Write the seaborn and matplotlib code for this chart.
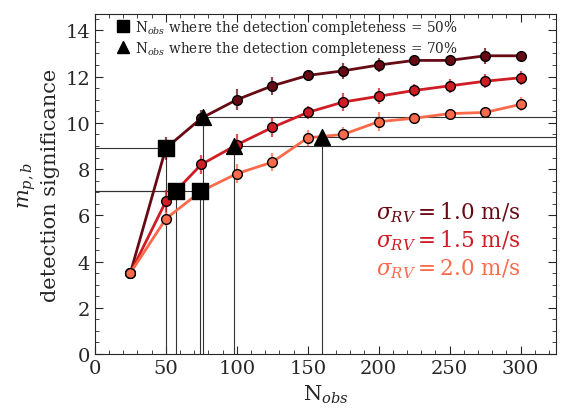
import numpy as np
import pandas as pd
import seaborn as sns
import matplotlib.pyplot as plt
from matplotlib.lines import Line2D

# Data
n_obs = [25, 50, 75, 100, 125, 150, 175, 200, 225, 250, 275, 300]
sig_10 = [3.5, 8.9, 10.2, 11.0, 11.6, 12.05, 12.25, 12.5, 12.7, 12.7, 12.9, 12.9]
sig_15 = [3.5, 6.6, 8.2, 9.05, 9.8, 10.45, 10.9, 11.15, 11.4, 11.6, 11.8, 11.95]
sig_20 = [3.5, 5.85, 7.05, 7.8, 8.3, 9.35, 9.5, 10.05, 10.2, 10.4, 10.45, 10.8]
err_10 = [0.2, 0.5, 0.35, 0.45, 0.4, 0.2, 0.35, 0.3, 0.2, 0.2, 0.35, 0.2]
err_15 = [0.2, 0.5, 0.4, 0.45, 0.4, 0.3, 0.4, 0.35, 0.3, 0.3, 0.3, 0.3]
err_20 = [0.2, 0.3, 0.3, 0.4, 0.4, 0.35, 0.3, 0.4, 0.2, 0.2, 0.2, 0.3]
labels = ['1.0', '1.5', '2.0']
colors = ['#680a14', '#d01c24', '#fb6a4a']

# completeness points (N_obs, significance)
c50_x = [50, 57, 74]
c50_y = [8.9, 7.05, 7.05]
c70_x = [76, 98, 160]
c70_y = [10.25, 9.0, 9.4]

df = pd.DataFrame({
    'N': n_obs * 3,
    'sig': sig_10 + sig_15 + sig_20,
    'err': err_10 + err_15 + err_20,
    'sigma': [l for l in labels for _ in n_obs],
})

sns.set_style('ticks')
plt.rcParams['font.family'] = 'DejaVu Serif'
plt.rcParams['mathtext.fontset'] = 'dejavuserif'

fig = plt.figure(figsize=(5.68, 4.10), dpi=100)
ax = fig.add_axes([0.167, 0.134, 0.812, 0.829])

xmax = 325
# guide lines
for x, y in zip(c50_x, c50_y):
    ax.plot([x, x], [0, y], color='#333333', lw=0.8, zorder=1)
    ax.plot([0, x], [y, y], color='#333333', lw=0.8, zorder=1)
for x, y in zip(c70_x, c70_y):
    ax.plot([x, x], [0, y], color='#333333', lw=0.8, zorder=1)
    ax.plot([x, xmax], [y, y], color='#333333', lw=0.8, zorder=1)

for lab, col in zip(labels, colors):
    sub = df[df['sigma'] == lab]
    ax.errorbar(sub['N'], sub['sig'], yerr=sub['err'], fmt='none',
                ecolor=col, elinewidth=1.6, alpha=0.75, zorder=2)

sns.lineplot(data=df, x='N', y='sig', hue='sigma', palette=colors,
             marker='o', markersize=7, markeredgecolor='black',
             markeredgewidth=1.0, lw=2, legend=False, ax=ax, zorder=3)

ax.scatter(c50_x, c50_y, marker='s', s=140, color='black', zorder=5)
ax.scatter(c70_x, c70_y, marker='^', s=130, color='black', zorder=5)

for i, (lab, col) in enumerate(zip(labels, colors)):
    ax.text(0.922, 0.42 - i * 0.084, r'$\sigma_{RV} = $' + lab + ' m/s',
            color=col, fontsize=15.5, ha='right', va='center',
            transform=ax.transAxes)

handles = [Line2D([], [], marker='s', color='black', ls='', markersize=8.5),
           Line2D([], [], marker='^', color='black', ls='', markersize=9)]
ax.legend(handles, [r'N$_{obs}$ where the detection completeness = 50%',
                    r'N$_{obs}$ where the detection completeness = 70%'],
          loc='upper left', bbox_to_anchor=(0.035, 1.005), frameon=False,
          fontsize=9.8, handlelength=1.0, handletextpad=0.4,
          borderaxespad=0.0, labelspacing=0.2)

ax.set_xlim(0, xmax)
ax.set_ylim(0, 14.7)
ax.set_xticks(np.arange(0, 301, 50))
ax.set_yticks(np.arange(0, 15, 2))
ax.set_xticks(np.arange(0, 326, 10), minor=True)
ax.set_yticks(np.arange(0, 14.7, 0.5), minor=True)
ax.tick_params(which='both', direction='in', top=True, right=True,
               labelsize=14)
ax.tick_params(which='major', length=6)
ax.tick_params(which='minor', length=3)
ax.set_xlabel(r'N$_{obs}$', fontsize=15)
ax.set_ylabel('$m_{p,b}$\ndetection significance', fontsize=15)

fig.savefig('out.png', dpi=100)
